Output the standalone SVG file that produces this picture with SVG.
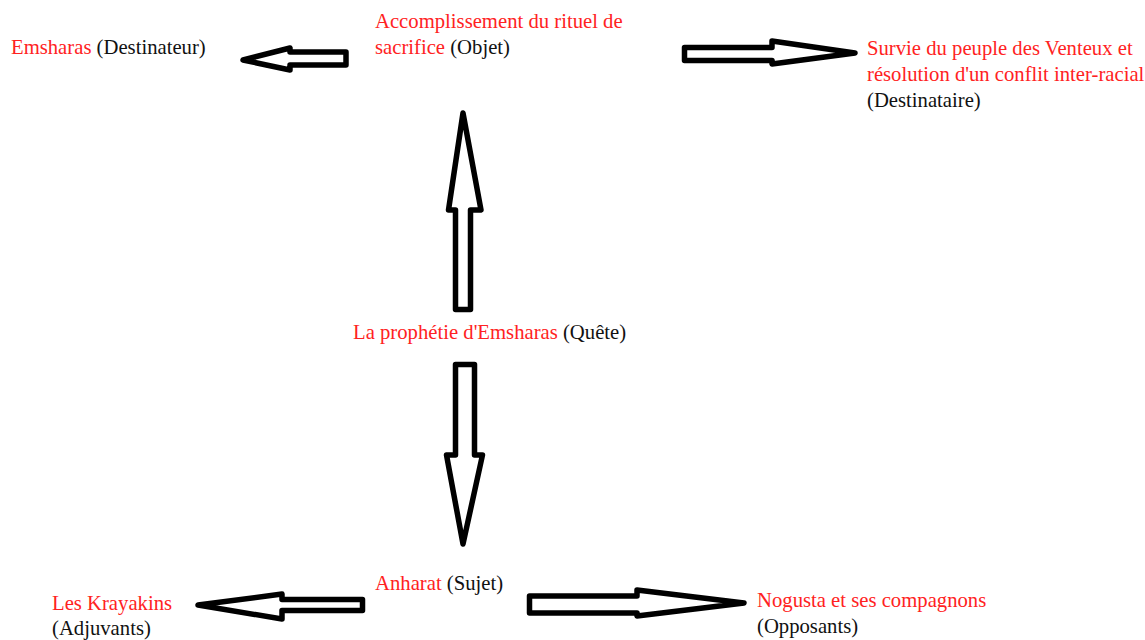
<svg xmlns="http://www.w3.org/2000/svg" width="1145" height="640" viewBox="0 0 1145 640">
<style>
text{font-family:"Liberation Serif","Times New Roman",serif;font-size:20.7px;fill:#111}
.r{fill:#ff2222}
.arrow{fill:#fff;stroke:#000;stroke-width:5.5;stroke-linejoin:round}
</style>
<rect width="1145" height="640" fill="#fff"/>
<g id="connectors">
<polygon class="arrow" points="346,52 346,65 290,65 290,70 243,60 290,48 290,52"/>
<polygon class="arrow" points="684.5,47.5 772,47.5 772,41 855,53 772,64 772,60.5 684.5,60.5"/>
<polygon class="arrow" points="455.5,309.5 455.5,210 448.5,210 463,113 481,210 470.5,210 470.5,309.5"/>
<polygon class="arrow" points="455.5,364.5 474.5,364.5 474.5,455 482.5,455 463,544 446.5,455 455.5,455"/>
<polygon class="arrow" points="362.5,599.5 362.5,610.5 282,610.5 282,619 198,605 282,594 282,599.5"/>
<polygon class="arrow" points="529.5,596 637,596 637,590 744,603 637,616 637,613 529.5,613"/>
</g>
<g id="destinateur"><text x="11" y="54"><tspan class="r">Emsharas</tspan> (Destinateur)</text></g>
<g id="objet"><text x="375" y="28" class="r">Accomplissement du rituel de</text><text x="375" y="54"><tspan class="r">sacrifice</tspan> (Objet)</text></g>
<g id="destinataire"><text x="867" y="55" class="r">Survie du peuple des Venteux et</text><text x="867" y="81" class="r">résolution d'un conflit inter-racial</text><text x="867" y="107">(Destinataire)</text></g>
<g id="quete"><text x="353" y="339"><tspan class="r">La prophétie d'Emsharas</tspan> (Quête)</text></g>
<g id="sujet"><text x="375" y="590"><tspan class="r">Anharat</tspan> (Sujet)</text></g>
<g id="adjuvants"><text x="52" y="610" class="r">Les Krayakins</text><text x="52" y="635">(Adjuvants)</text></g>
<g id="opposants"><text x="757" y="607" class="r">Nogusta et ses compagnons</text><text x="757" y="633">(Opposants)</text></g>
</svg>
